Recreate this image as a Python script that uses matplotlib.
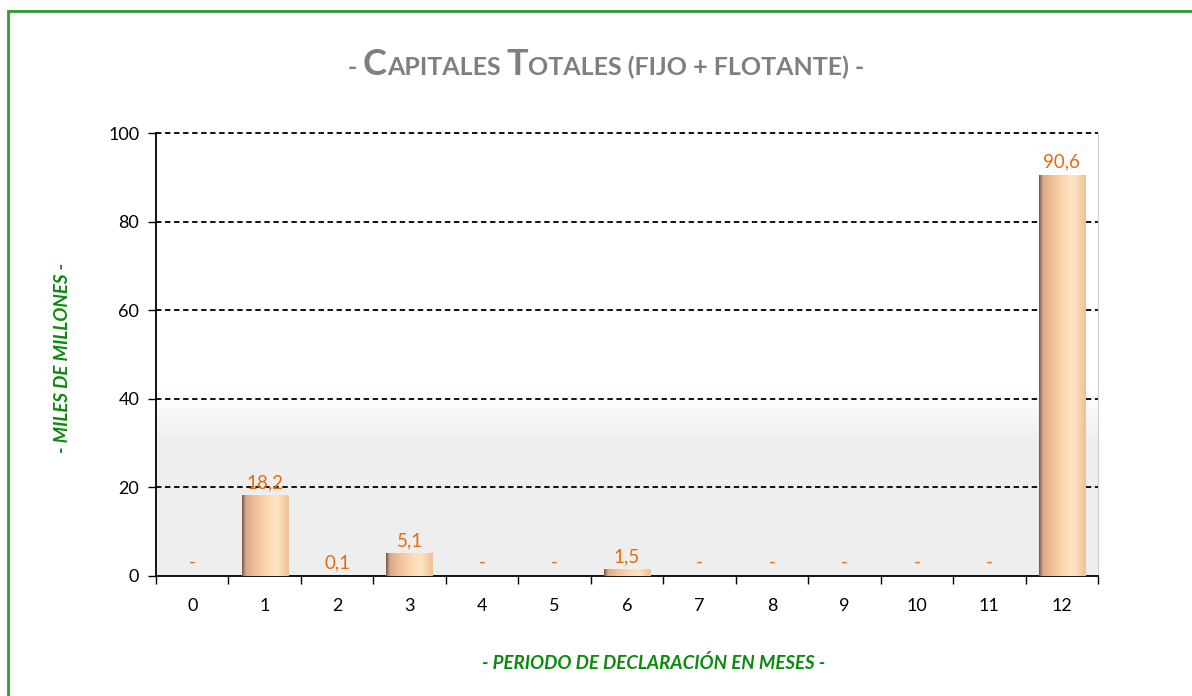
import matplotlib.pyplot as plt
import numpy as np
from matplotlib.patches import Rectangle

# periodo de declaracion (meses) y capitales (miles de millones)
months = ['0', '1', '2', '3', '4', '5', '6', '7', '8', '9', '10', '11', '12']
capital = [0, 18.2, 0.1, 5.1, 0, 0, 1.5, 0, 0, 0, 0, 0, 90.6]
labels = ['-', '18,2', '0,1', '5,1', '-', '-', '1,5', '-', '-', '-', '-', '-', '90,6']

plt.rcParams['font.family'] = ['Lato', 'DejaVu Sans']

fig = plt.figure(figsize=(11.92, 6.96), dpi=100)
ax = fig.add_axes([156/1192, 1-576/696, 942/1192, 443/696])

# green frame (only top/left visible in original)
fig.patches.append(Rectangle((8/1192, -0.05), 1.2, 1-11/696+0.05, transform=fig.transFigure,
                             fill=False, edgecolor='#2e9b2e', linewidth=2.0, zorder=0))

x = np.arange(len(months))
ax.set_xlim(-0.5, 12.5)
ax.set_ylim(0, 100)

# soft grey backdrop in lower part of plot area
grad = np.linspace(0, 1, 200).reshape(-1, 1)
bg = np.ones((200, 1, 3))
shade = 1 - 0.065 * np.clip((0.42 - grad) / 0.12, 0, 1)
for c in range(3):
    bg[:, :, c] = shade
ax.imshow(bg, extent=(-0.5, 12.5, 0, 100), origin='lower', aspect='auto', zorder=0)

for y in [20, 40, 60, 80, 100]:
    ax.axhline(y, color='black', linestyle=(0, (3, 2)), linewidth=1.3, zorder=1, clip_on=False)

bars = ax.bar(x, capital, width=0.64, color='#f3c7a0', zorder=2)

# horizontal gradient on bars
cols = np.array([
    [0.45, 0.35, 0.30],
    [0.85, 0.66, 0.53],
    [0.95, 0.76, 0.60],
    [0.99, 0.85, 0.70],
    [1.00, 0.90, 0.78],
    [0.97, 0.80, 0.64],
    [0.93, 0.76, 0.60],
])
pos = np.array([0, 0.08, 0.3, 0.55, 0.75, 0.9, 1.0])
t = np.linspace(0, 1, 100)
img = np.stack([np.interp(t, pos, cols[:, c]) for c in range(3)], axis=-1)[None, :, :]
for b in bars:
    if b.get_height() <= 0:
        continue
    x0 = b.get_x()
    im = ax.imshow(img, extent=(x0, x0 + b.get_width(), 0, b.get_height()),
                   aspect='auto', zorder=3)
    im.set_clip_path(b)

for xi, v, lab in zip(x, capital, labels):
    ax.annotate(lab, (xi, v), xytext=(0, 3 if v > 0 else 4), textcoords='offset points',
                ha='center', va='bottom', color='#e46c0a', fontsize=13.5, zorder=4)

ax.set_xticks(np.arange(-0.5, 13, 1))
ax.set_xticklabels([])
ax.set_xticks(x, minor=True)
ax.set_xticklabels(months, minor=True)
ax.tick_params(axis='x', which='major', direction='out', length=6, width=1)
ax.tick_params(axis='x', which='minor', length=0, pad=16, labelsize=13)
ax.set_yticks([0, 20, 40, 60, 80, 100])
ax.tick_params(axis='y', direction='out', length=6, width=1, labelsize=13, pad=6)

ax.spines['top'].set_visible(False)
ax.spines['right'].set_color('#d0d0d0')
ax.spines['left'].set_linewidth(1.3)
ax.spines['bottom'].set_linewidth(1.3)

fig.text(62/1192, 1-358/696, '- MILES DE MILLONES -', rotation=90, ha='center', va='center',
         color='#0b8a0b', fontsize=13.5, fontweight='bold', fontstyle='italic')
fig.text(654/1192, 1-663/696, '- PERIODO DE DECLARACIÓN EN MESES -', ha='center', va='center',
         color='#0b8a0b', fontsize=13.5, fontweight='bold', fontstyle='italic')

# small-caps title built piece by piece
pieces = [('- ', 18), ('C', 26), ('APITALES ', 18), ('T', 26), ('OTALES (FIJO + FLOTANTE) -', 18)]
fig.canvas.draw()
renderer = fig.canvas.get_renderer()
texts = []
xpos = 0
for s, size in pieces:
    tx = fig.text(0, 1-75/696, s, fontsize=size, fontweight='bold', color='#7f7f7f',
                  ha='left', va='baseline')
    w = tx.get_window_extent(renderer).width
    texts.append((tx, xpos))
    xpos += w
start = 606 - xpos / 2
for tx, off in texts:
    tx.set_x((start + off) / 1192)

fig.savefig('out.png', dpi=100)
